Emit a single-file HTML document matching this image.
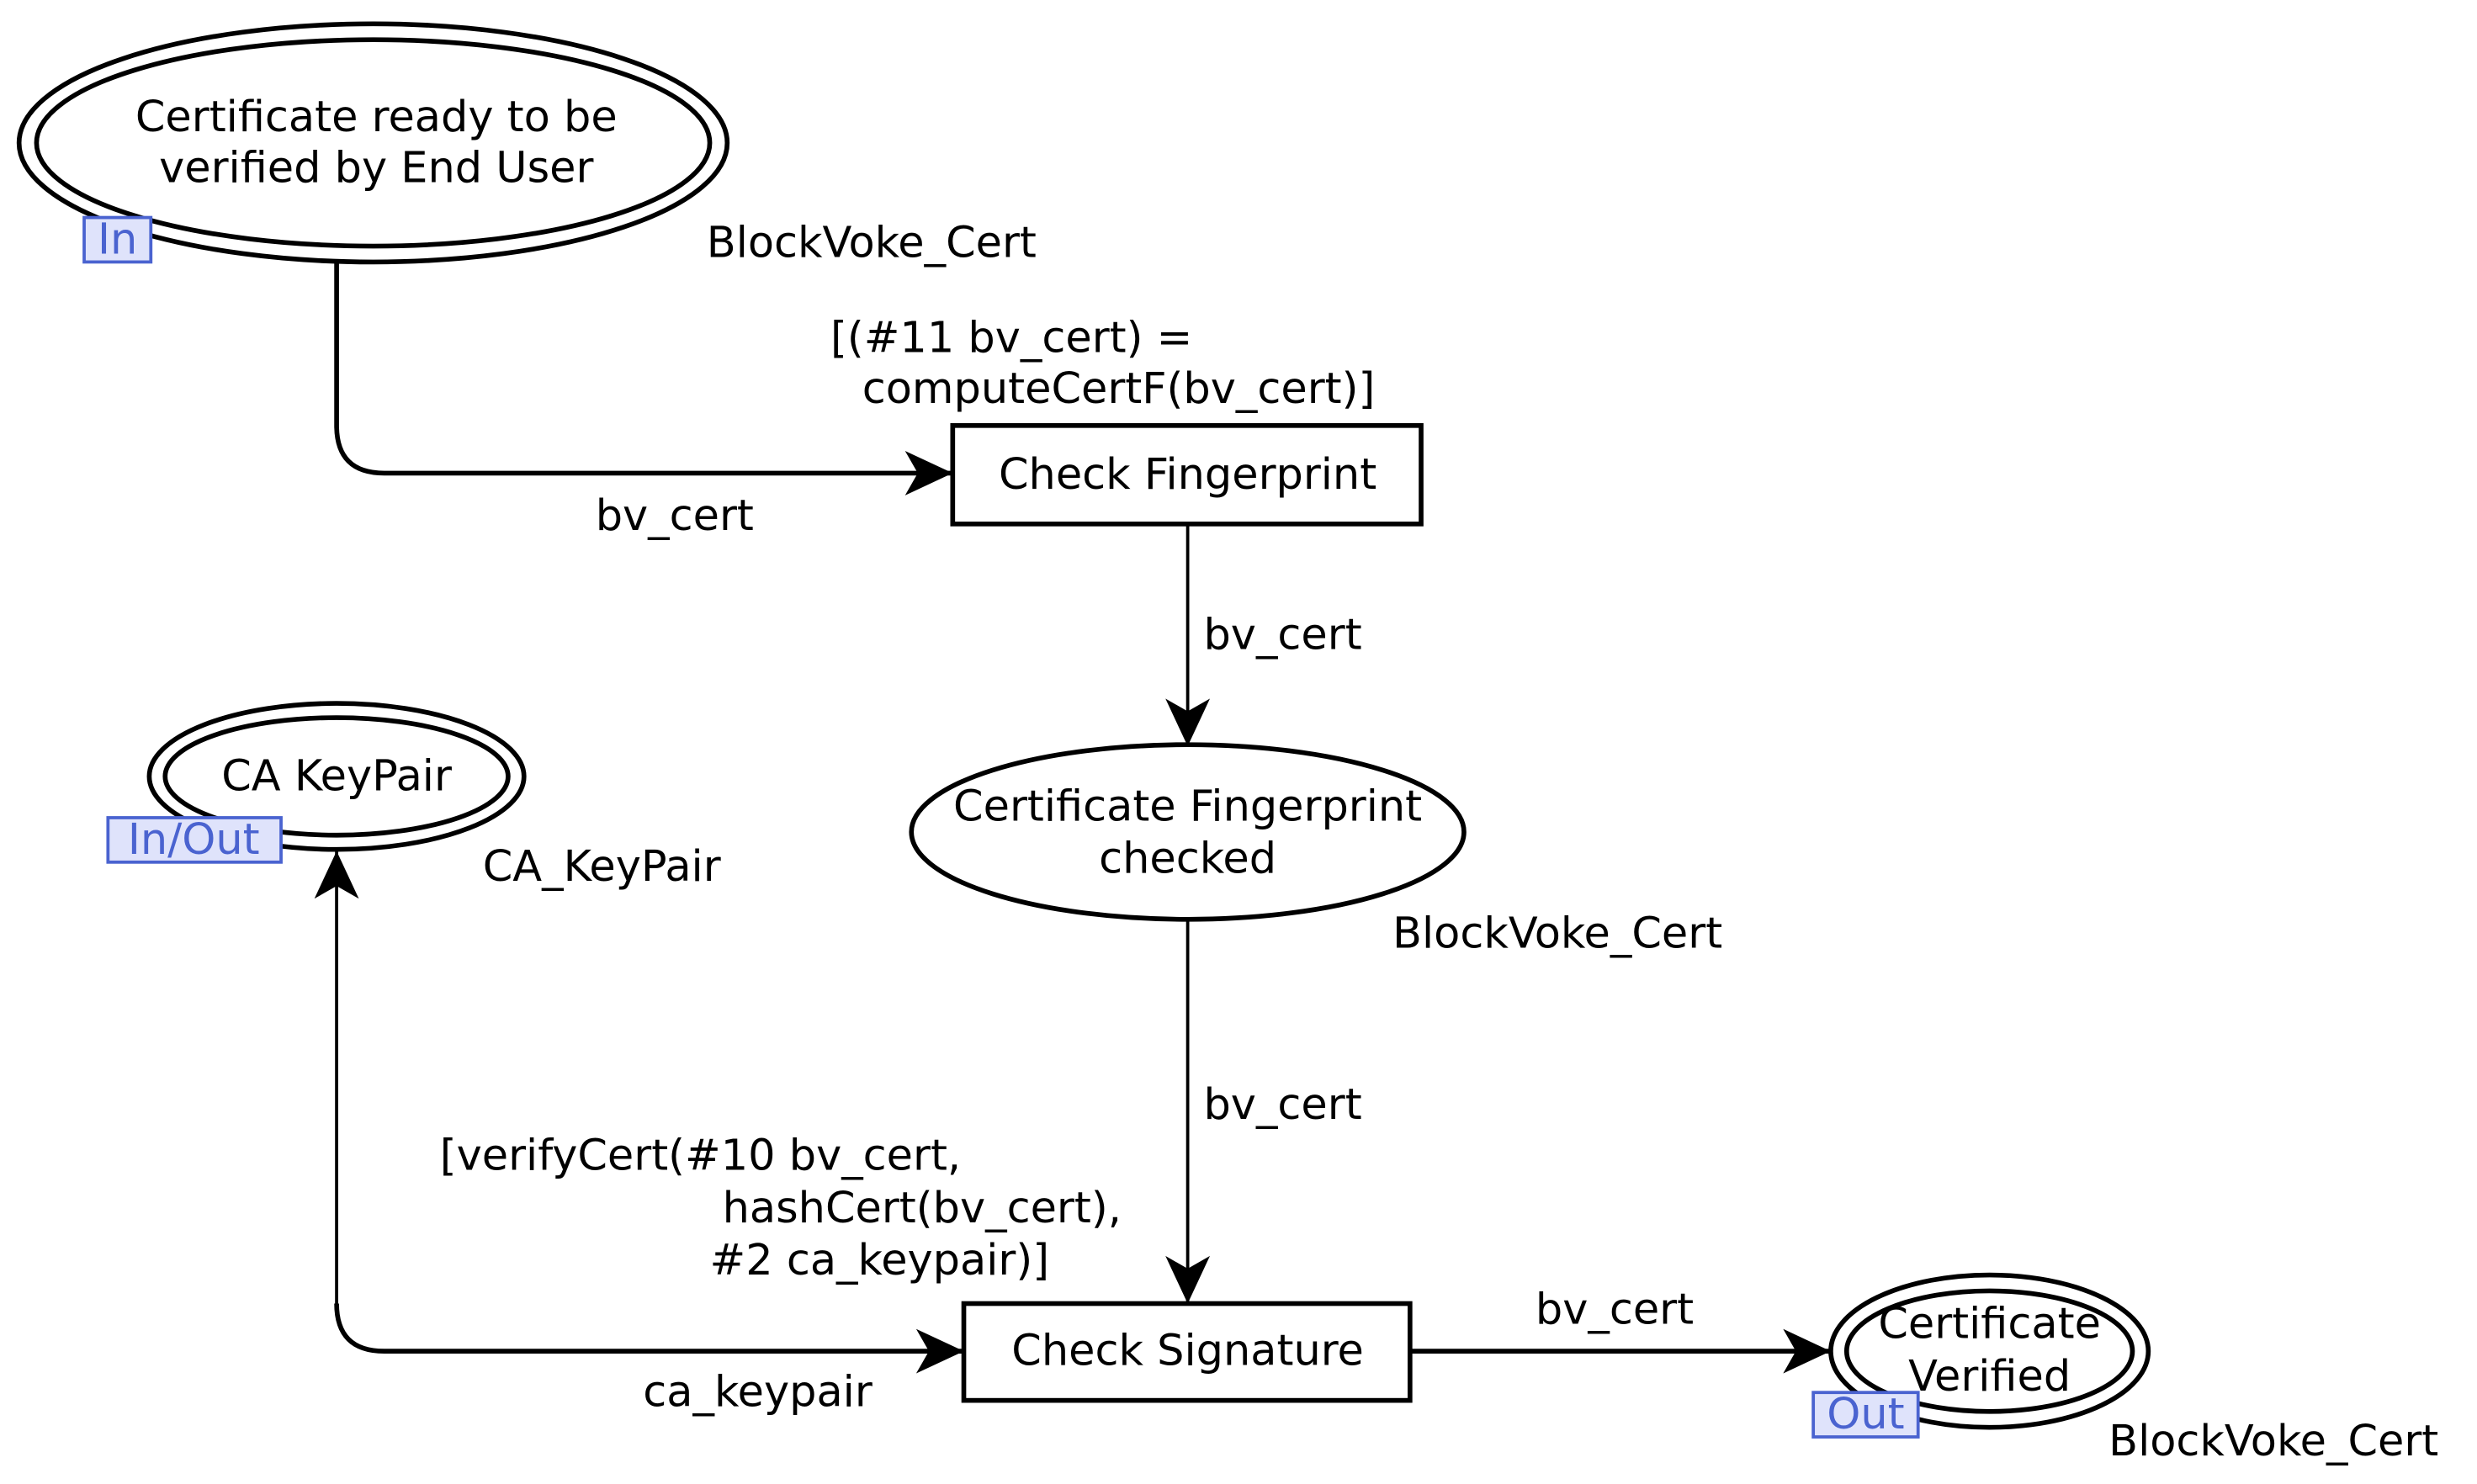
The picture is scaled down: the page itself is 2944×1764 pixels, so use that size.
<!DOCTYPE html>
<html><head><meta charset="utf-8"><style>html,body{margin:0;padding:0;background:#fff}</style></head><body>
<svg width="2944" height="1759" viewBox="0 0 1560 932" preserveAspectRatio="none" xmlns="http://www.w3.org/2000/svg" font-family="DejaVu Sans, Liberation Sans, sans-serif" font-size="27">
<defs>
<marker id="a" markerWidth="34" markerHeight="30" refX="30" refY="15" orient="auto" markerUnits="userSpaceOnUse">
<path d="M0,1 L30,15 L0,29 L8,15 Z" fill="#000"/></marker>
</defs>
<g fill="none" stroke="#000" stroke-width="3">
<ellipse cx="235" cy="90" rx="223" ry="75"/>
<ellipse cx="235" cy="90" rx="212" ry="65"/>
<rect x="600" y="268" width="295" height="62"/>
<ellipse cx="748" cy="524" rx="174" ry="55"/>
<ellipse cx="212" cy="489" rx="118" ry="46"/>
<ellipse cx="212" cy="489" rx="108" ry="37"/>
<rect x="607" y="821" width="281" height="61"/>
<ellipse cx="1253" cy="851" rx="100" ry="48"/>
<ellipse cx="1253" cy="851" rx="90" ry="38"/>
<path d="M212,165 V268 Q212,298 242,298 H600" marker-end="url(#a)"/>
<path d="M748,330 V470" marker-end="url(#a)" stroke-width="2"/>
<path d="M748,580 V821" marker-end="url(#a)" stroke-width="2"/>
<path d="M607,851 H242 Q212,851 212,821 V536" marker-end="url(#a)" stroke-width="2"/>
<path d="M212,821 Q212,851 242,851 H607" marker-end="url(#a)"/>
<path d="M888,851 H1153" marker-end="url(#a)"/>
</g>
<g fill="#dfe3fb" stroke="#4a63d0" stroke-width="2">
<rect x="53" y="137" width="42" height="28"/>
<rect x="68" y="515" width="109" height="28"/>
<rect x="1142" y="877" width="66" height="28"/>
</g>
<g fill="#4a63d0" dominant-baseline="central">
<text x="74" y="151" text-anchor="middle">In</text>
<text x="122" y="529" text-anchor="middle">In/Out</text>
<text x="1175" y="891" text-anchor="middle">Out</text>
</g>
<g fill="#000" dominant-baseline="central">
<text x="237" y="74" text-anchor="middle">Certificate ready to be</text>
<text x="237" y="106" text-anchor="middle">verified by End User</text>
<text x="445" y="153">BlockVoke_Cert</text>
<text x="523" y="213">[(#11 bv_cert) =</text>
<text x="543" y="245">computeCertF(bv_cert)]</text>
<text x="375" y="325">bv_cert</text>
<text x="748" y="299" text-anchor="middle">Check Fingerprint</text>
<text x="758" y="400">bv_cert</text>
<text x="748" y="508" text-anchor="middle">Certificate Fingerprint</text>
<text x="748" y="541" text-anchor="middle">checked</text>
<text x="877" y="588">BlockVoke_Cert</text>
<text x="212" y="489" text-anchor="middle">CA KeyPair</text>
<text x="304" y="546">CA_KeyPair</text>
<text x="758" y="696">bv_cert</text>
<text x="277" y="728">[verifyCert(#10 bv_cert,</text>
<text x="455" y="761">hashCert(bv_cert),</text>
<text x="447" y="794">#2 ca_keypair)]</text>
<text x="748" y="851" text-anchor="middle">Check Signature</text>
<text x="405" y="877">ca_keypair</text>
<text x="967" y="825">bv_cert</text>
<text x="1253" y="834" text-anchor="middle">Certificate</text>
<text x="1253" y="867" text-anchor="middle">Verified</text>
<text x="1328" y="908">BlockVoke_Cert</text>
</g>
</svg>
</body></html>
